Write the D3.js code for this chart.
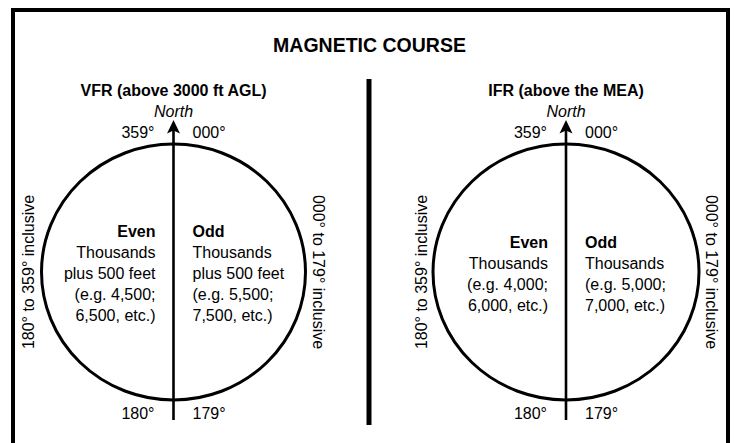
<!DOCTYPE html>
<html>
<head>
<meta charset="utf-8">
<script src="https://cdn.jsdelivr.net/npm/d3@7"></script>
<style>
  html, body { margin: 0; padding: 0; background: #fff; }
  svg { display: block; }
  text { font-family: "Liberation Sans", Arial, Helvetica, sans-serif; fill: #000; }
</style>
</head>
<body>
<svg id="chart" width="734" height="443"></svg>
<script>
// ---- data ----
const chartTitle = "MAGNETIC COURSE";
const panels = ["VFR (above 3000 ft AGL)", "IFR (above the MEA)"];
const northLabel = "North";
const topLabels = ["359°", "000°"];
const bottomLabels = ["180°", "179°"];
const westRange = ["180° to 359° inclusive", "180° to 359° inclusive"];
const eastRange = ["000° to 179° inclusive", "000° to 179° inclusive"];
const evenLines = [
  ["Even", "Thousands", "plus 500 feet", "(e.g. 4,500;", "6,500, etc.)"],
  ["Even", "Thousands", "(e.g. 4,000;", "6,000, etc.)"]
];
const oddLines = [
  ["Odd", "Thousands", "plus 500 feet", "(e.g. 5,500;", "7,500, etc.)"],
  ["Odd", "Thousands", "(e.g. 5,000;", "7,000, etc.)"]
];

// ---- layout ----
const W = 734, H = 443;
const svg = d3.select("#chart");
const x = d3.scalePoint().domain(panels).range([173.5, 566]);
const cy = 272, rx = 132, ry = 128;
const lineH = 21, blockMid = 279;

// frame (open at bottom)
svg.append("path")
  .attr("d", d3.line()([[13, H + 10], [13, 10], [728, 10], [728, H + 10]]))
  .attr("fill", "none").attr("stroke", "#000").attr("stroke-width", 4);

// divider
svg.append("line")
  .attr("x1", 369).attr("x2", 369).attr("y1", 79).attr("y2", 425)
  .attr("stroke", "#000").attr("stroke-width", 5);

// title
svg.append("text").attr("x", 369.5).attr("y", 51.5)
  .attr("text-anchor", "middle").attr("font-weight", "bold")
  .attr("font-size", 19.5).text(chartTitle);

const g = svg.selectAll("g.panel").data(panels).join("g")
  .attr("class", "panel")
  .attr("transform", d => `translate(${x(d)},0)`);

// subtitle
g.append("text").attr("x", 0).attr("y", 96)
  .attr("text-anchor", "middle").attr("font-weight", "bold")
  .attr("font-size", 16).text(d => d);

// North
g.append("text").attr("x", 0).attr("y", 117)
  .attr("text-anchor", "middle").attr("font-style", "italic")
  .attr("font-size", 16).text(northLabel);

// circle (slightly elliptic)
g.append("ellipse").attr("cx", 0).attr("cy", cy).attr("rx", (d, i) => i ? 133 : rx).attr("ry", ry)
  .attr("fill", "none").attr("stroke", "#000").attr("stroke-width", 3);

// north axis
g.append("line").attr("x1", 0).attr("x2", 0).attr("y1", 128).attr("y2", 420)
  .attr("stroke", "#000").attr("stroke-width", 2.6);
g.append("path")
  .attr("d", "M0,120 L6.5,133.5 L0,130.5 L-6.5,133.5 Z")
  .attr("fill", "#000");

// degree labels
g.append("text").attr("x", -19).attr("y", 137.5).attr("text-anchor", "end")
  .attr("font-size", 16).text(topLabels[0]);
g.append("text").attr("x", 19).attr("y", 137.5).attr("text-anchor", "start")
  .attr("font-size", 16).text(topLabels[1]);
g.append("text").attr("x", -19).attr("y", 419).attr("text-anchor", "end")
  .attr("font-size", 16).text(bottomLabels[0]);
g.append("text").attr("x", 19).attr("y", 419).attr("text-anchor", "start")
  .attr("font-size", 16).text(bottomLabels[1]);

// rotated range labels
g.append("text")
  .attr("transform", `translate(-139.5,${cy}) rotate(-90)`)
  .attr("text-anchor", "middle").attr("font-size", 16)
  .text((d, i) => westRange[i]);
g.append("text")
  .attr("transform", `translate(139.5,${cy}) rotate(90)`)
  .attr("text-anchor", "middle").attr("font-size", 16)
  .text((d, i) => eastRange[i]);

// even / odd blocks
function block(sel, linesArr, dx, anchor) {
  sel.each(function(d, i) {
    const lines = linesArr[i];
    const first = blockMid - (lines.length - 1) * lineH / 2;
    d3.select(this).selectAll(null).data(lines).join("text")
      .attr("x", dx)
      .attr("y", (t, j) => first + j * lineH)
      .attr("text-anchor", anchor)
      .attr("font-size", 16)
      .attr("font-weight", (t, j) => j === 0 ? "bold" : "normal")
      .text(t => t);
  });
}
block(g, evenLines, -18, "end");
block(g, oddLines, 19, "start");
</script>
</body>
</html>
